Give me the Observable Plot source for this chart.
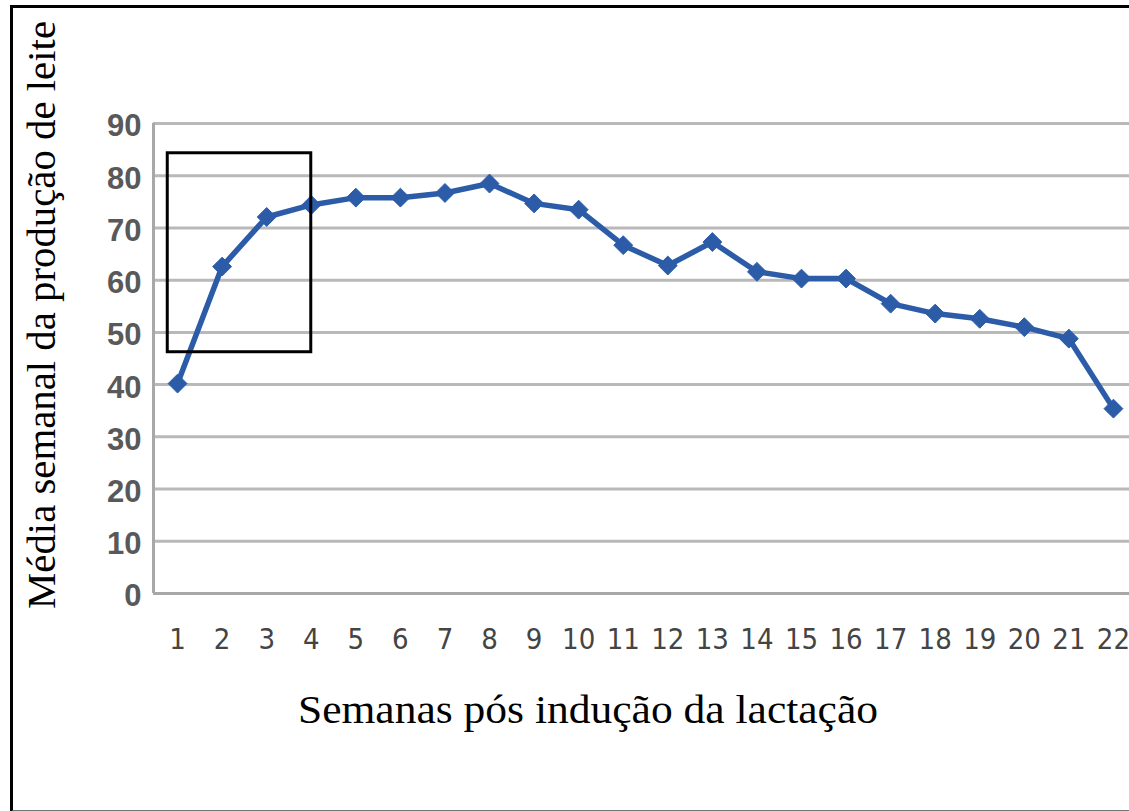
<!DOCTYPE html>
<html>
<head>
<meta charset="utf-8">
<script src="https://cdn.jsdelivr.net/npm/d3@7"></script>
<script src="https://cdn.jsdelivr.net/npm/@observablehq/plot@0.6"></script>
<style>
  html, body { margin: 0; padding: 0; background: #fff; overflow: hidden; width: 1129px; height: 811px; }
  #frame { position: absolute; left: 10px; top: 5px; width: 1200px; height: 808px; border: 3px solid #000; border-bottom-color: #777; box-sizing: border-box; }
  #chart { position: absolute; left: 0; top: 0; }
</style>
</head>
<body>
<div id="frame"></div>
<div id="chart"></div>
<script>
// ---- data ----
const weeks = [1, 2, 3, 4, 5, 6, 7, 8, 9, 10, 11, 12, 13, 14, 15, 16, 17, 18, 19, 20, 21, 22];
const milk = [40.2, 62.6, 72.1, 74.4, 75.8, 75.8, 76.7, 78.5, 74.7, 73.5, 66.7, 62.8, 67.3, 61.6, 60.3, 60.3, 55.5, 53.6, 52.6, 51.0, 48.8, 35.4];
const yTicks = [0, 10, 20, 30, 40, 50, 60, 70, 80, 90];
const xTitle = "Semanas pós indução da lactação";
const yTitle = "Média semanal da produção de leite";
// highlighted box (data units: weeks, milk)
const boxWeeks = [0.78, 4.0];
const boxMilk = [46.2, 84.3];

const data = weeks.map((w, i) => ({week: w, milk: milk[i]}));
const box = [{x1: boxWeeks[0], x2: boxWeeks[1], y1: boxMilk[0], y2: boxMilk[1]}];
const xMin = 0.46, xMax = 22.36;

const blue = "#2c5ca8";
const grid = "#b9b9b9";

const svg = Plot.plot({
  width: 1129,
  height: 811,
  marginLeft: 153,
  marginRight: 0,
  marginTop: 123,
  marginBottom: 218,
  style: {background: "transparent", overflow: "visible"},
  x: {domain: [xMin, xMax], label: null},
  y: {domain: [0, 90], label: null},
  marks: [
    Plot.gridY(yTicks.filter(d => d > 0), {stroke: grid, strokeOpacity: 1, strokeWidth: 3}),
    Plot.ruleY([0], {stroke: "#a8a8a8", strokeWidth: 3}),
    Plot.ruleX([xMin], {y1: 0, y2: 90, stroke: "#a8a8a8", strokeWidth: 3}),
    Plot.axisY({ticks: yTicks, tickSize: 0, tickPadding: 12, fontSize: 31, fontWeight: "bold",
      fill: "#595959", fontFamily: "Liberation Sans, Arial, sans-serif", label: null, dy: 3}),
    Plot.axisX({ticks: weeks, tickFormat: d => d, tickSize: 0, tickPadding: 35, fontSize: 29, fontWeight: "normal",
      fill: "#444", fontFamily: "Liberation Sans Narrow, DejaVu Sans Condensed, Liberation Sans, sans-serif", label: null}),
    Plot.line(data, {x: "week", y: "milk", stroke: blue, strokeWidth: 5.5}),
    Plot.dot(data, {x: "week", y: "milk", symbol: d3.symbolDiamond2, r: 8.5, fill: blue, stroke: blue, strokeWidth: 1}),
    Plot.rect(box, {x1: "x1", x2: "x2", y1: "y1", y2: "y2", fill: "none", stroke: "#000", strokeWidth: 3})
  ]
});

const s = d3.select(svg);
s.append("text")
  .attr("x", 588).attr("y", 723)
  .attr("text-anchor", "middle")
  .attr("font-family", "Liberation Serif, Times New Roman, serif")
  .attr("font-size", 40)
  .attr("textLength", 580)
  .attr("lengthAdjust", "spacingAndGlyphs")
  .attr("fill", "#000")
  .text(xTitle);
s.append("text")
  .attr("transform", "translate(55,315) rotate(-90)")
  .attr("text-anchor", "middle")
  .attr("font-family", "Liberation Serif, Times New Roman, serif")
  .attr("font-size", 40)
  .attr("textLength", 588)
  .attr("lengthAdjust", "spacingAndGlyphs")
  .attr("fill", "#000")
  .text(yTitle);

document.getElementById("chart").appendChild(svg);
</script>
</body>
</html>
